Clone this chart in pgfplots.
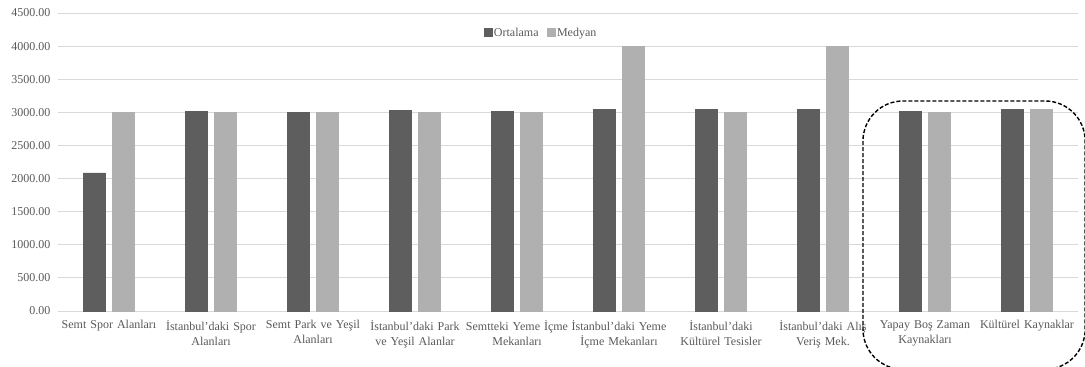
\documentclass[border=0pt]{standalone}
\usepackage{pgfplots}
\pgfplotsset{compat=1.18}
\usepackage{fontspec}
\setmainfont{Liberation Serif}
\definecolor{darkbar}{HTML}{5E5E5E}
\definecolor{lightbar}{HTML}{B0B0B0}
\definecolor{gridc}{HTML}{D9D9D9}
\definecolor{txt}{HTML}{595959}
\begin{document}
\begin{tikzpicture}
\begin{axis}[
  scale only axis,
  width=1020pt, height=298pt,
  ybar=7pt, bar width=22pt,
  xmin=-0.5, xmax=9.5,
  ymin=0, ymax=4500,
  ytick={0,500,...,4500},
  xtick={0,...,9},
  xticklabels={
    {Semt Spor Alanları},
    {İstanbul’daki Spor\\Alanları},
    {Semt Park ve Yeşil\\Alanları},
    {İstanbul’daki Park\\ve Yeşil Alanlar},
    {Semtteki Yeme İçme\\Mekanları},
    {İstanbul’daki Yeme\\İçme Mekanları},
    {İstanbul’daki\\Kültürel Tesisler},
    {İstanbul’daki Alış\\Veriş Mek.},
    {Yapay Boş Zaman\\Kaynakları},
    {Kültürel Kaynaklar}},
  x tick label style={text width=115pt, align=center, font=\fontsize{12}{15}\selectfont, text=txt, inner sep=0pt, yshift=-9pt},
  y tick label style={font=\fontsize{12}{14}\selectfont, text=txt, xshift=-4pt},
  /pgf/number format/.cd, fixed, fixed zerofill, precision=2, 1000 sep={}, assume math mode=true,
  /pgfplots/.cd,
  ymajorgrids, grid style={gridc, line width=0.8pt},
  axis y line*=left, axis x line*=bottom,
  y axis line style={draw=none},
  x axis line style={gridc, line width=0.8pt},
  major tick length=0pt,
  axis line style={-},
  clip=false,
  legend columns=2,
  legend style={at={(0.4735,0.934)}, anchor=center, draw=none, fill=none,
    font=\fontsize{12}{14}\selectfont, text=txt,
    /tikz/every even column/.append style={column sep=6pt}},
  legend image code/.code={\fill[#1] (0pt,-4pt) rectangle (8pt,4pt);},
]
\addplot[fill=darkbar, draw=darkbar] coordinates {
 (0,2085) (1,3020) (2,3000) (3,3030) (4,3020) (5,3050) (6,3040) (7,3050) (8,3010) (9,3040)};
\addplot[fill=lightbar, draw=lightbar] coordinates {
 (0,3000) (1,3000) (2,3000) (3,3000) (4,3000) (5,4000) (6,3000) (7,4000) (8,3000) (9,3050)};
\legend{Ortalama, Medyan}
\draw[black, line width=1.4pt, dash pattern=on 4pt off 2pt, rounded corners=40pt]
  (axis cs:7.392,3171) rectangle (axis cs:9.57,-880);
\end{axis}
\pgfresetboundingbox
\path (current axis.south west) ++(-58pt,-56pt) coordinate (bl);
\path (current axis.north east) ++(7pt,13pt) coordinate (tr);
\useasboundingbox (bl) rectangle (tr);
\end{tikzpicture}
\end{document}
